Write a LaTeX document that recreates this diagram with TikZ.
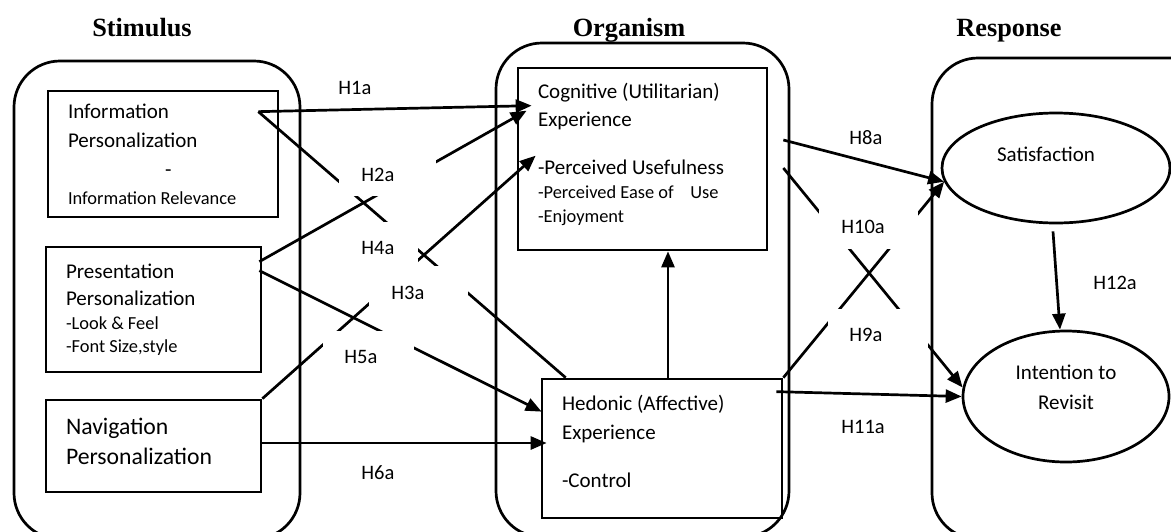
\documentclass[tikz,border=0pt]{standalone}
\usepackage{fontspec}
\setmainfont{Carlito}
\newfontfamily\headfont{Liberation Serif}
\usetikzlibrary{shapes.geometric,arrows.meta,calc}
\newcommand{\detailfont}{\fontsize{18.4}{29}\selectfont}

\begin{document}
\begin{tikzpicture}[x=1pt, y=-1pt, line width=2.7pt,
  every node/.style={inner sep=0pt},
  frame/.style={rounded corners=46pt},
  head/.style={anchor=base, font=\headfont\bfseries\fontsize{26.3}{30}\selectfont},
  blk/.style={draw, rectangle, align=flush left, inner xsep=20pt, font=\fontsize{21}{29}\selectfont},
  oval/.style={draw, ellipse, align=center, font=\fontsize{21}{30}\selectfont},
  arr/.style={-{Triangle[length=16pt,width=13pt]}},
  hyp/.style={fill=white, anchor=north west, align=flush left, font=\fontsize{20.5}{24}\selectfont}]
  \useasboundingbox (0,0) rectangle (1171,531);
  \clip (0,0) rectangle (1171,531);
  % column headings
  \node[head] (stimhead) at (142,36) {Stimulus};
  \node[head] (orghead) at (629,36) {Organism};
  \node[head] (resphead) at (1009,36) {Response};
  % column frames
  \draw[frame] (14,61) rectangle (300,539);
  \draw[frame] (496,43) rectangle (789,537);
  \draw[frame] (932,58) rectangle (1224,539);
  % stimulus boxes
  \node[blk, minimum width=230, minimum height=126, text width=190] (info) at (163,154)
    {Information\\Personalization\\\hspace*{97pt}-\\[-1pt]{\detailfont Information Relevance}};
  \node[blk, minimum width=215, minimum height=125, text width=175] (pres) at (153.5,309.5)
    {Presentation\\[-2pt]Personalization\\[-5pt]{\detailfont -Look \& Feel}\\[-6pt]{\detailfont -Font Size,style}};
  \node[blk, minimum width=215, minimum height=92, text width=175, font=\fontsize{23.7}{30}\selectfont] (nav) at (153.5,446)
    {Navigation\\Personalization\\[-20pt]\mbox{}};
  % organism boxes
  \node[blk, minimum width=249, minimum height=182, text width=209] (cog) at (642.5,159)
    {Cognitive (Utilitarian)\\[-1pt]Experience\\[19pt]-Perceived Usefulness\\[-5pt]{\detailfont -Perceived Ease of\ \ \ \ Use}\\[-5pt]{\detailfont -Enjoyment}\\[-17pt]\mbox{}};
  \node[blk, minimum width=240, minimum height=139, text width=200] (hed) at (662,448.5)
    {Hedonic (Affective)\\Experience\\[19pt]-Control\\[-15pt]\mbox{}};
  % response ovals
  \node[oval, minimum width=228, minimum height=110, text depth=28pt] (sat) at (1056,168) {Satisfaction\hspace*{20pt}};
  \node[oval, minimum width=206, minimum height=131, text depth=19pt] (intent) at (1066,396.5) {Intention to\\Revisit};
  % stimulus -> organism
  \draw[arr] ($(info.north east)+(-21,22)$) -- ($(cog.north west)+(15,39)$);
  \draw ($(info.north east)+(-21,22)$) -- ($(hed.north west)+(25,0)$);
  \draw[arr] ($(pres.north east)+(-3,16)$) -- ($(cog.north west)+(10,44)$);
  \draw[arr] ($(pres.north east)+(-3,25)$) -- ($(hed.north west)+(1,34)$);
  \draw[arr] (nav.north east) -- ($(cog.north west)+(19,89)$);
  \draw[arr] ($(nav.east)+(0,-3)$) -- ($(hed.west)+(6,-5.5)$);
  % hedonic -> cognitive
  \coordinate (hedtop) at ([xshift=6pt]hed.north);
  \draw[arr] (hedtop) -- (hedtop |- cog.south);
  % organism -> response
  \draw[arr] ($(cog.east)+(15,-19)$) -- (sat.187);
  \draw[arr] ($(cog.east)+(15,9)$) -- (intent.175);
  \draw[arr] (hed.north east) -- (sat.187);
  \draw[arr] ($(hed.north east)+(-7,14)$) -- (intent.west);
  \draw[arr] ($(sat.south)+(-3,7)$) -- ($(intent.north)+(-6,0)$);
  % hypothesis labels (white boxes cut the lines)
  \node[hyp, text width=60, text height=21, text depth=8] (h1a) at (327,72) {\hspace*{10pt}H1a};
  \node[hyp, text width=97, text height=30, text depth=15] (h2a) at (338,150) {\hspace*{22pt}H2a};
  \node[hyp, text width=80, text height=32, text depth=12] (h4a) at (337,221) {\hspace*{23pt}H4a};
  \node[hyp, text width=99, text height=33, text depth=12] (h3a) at (368,265) {\hspace*{22pt}H3a};
  \node[hyp, text width=91, text height=32, text depth=13] (h5a) at (322,330) {\hspace*{21pt}H5a};
  \node[hyp, text width=90, text height=26, text depth=12] (h6a) at (340,452) {\hspace*{20pt}H6a};
  \node[hyp, text width=80, text height=27, text depth=5] (h8a) at (835,116) {\hspace*{13pt}H8a};
  \node[hyp, text width=99, text height=27, text depth=16] (h10a) at (818,205) {\hspace*{22pt}H10a};
  \node[hyp, text width=100, text height=32, text depth=10] (h9a) at (827,308) {\hspace*{21pt}H9a};
  \node[hyp, text width=90, text height=24, text depth=13] (h11a) at (820,408) {\hspace*{20pt}H11a};
  \node[hyp, text width=70, text height=23, text depth=12] (h12a) at (1080,265) {\hspace*{12pt}H12a};
\end{tikzpicture}
\end{document}
